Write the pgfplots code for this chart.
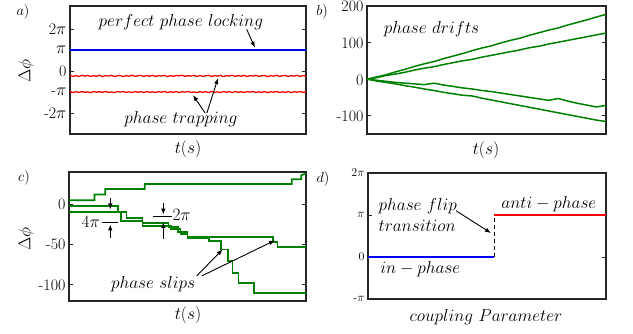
\documentclass[border=0pt]{standalone}
\usepackage{pgfplots}
\pgfplotsset{compat=1.18}
\usetikzlibrary{arrows.meta}
\definecolor{mgreen}{rgb}{0,0.5,0}
\definecolor{axgray}{rgb}{0.15,0.15,0.15}
\pgfplotsset{
  panel/.style={scale only axis, anchor=north west,
    axis line style={axgray,line width=1.1pt},
    tick align=inside, xtick=\empty, major tick length=4pt,
    ytick style={axgray,line width=0.8pt},
    yticklabel style={font=\fontsize{16}{16}\selectfont, text=black},
    clip=true},
}
\tikzset{
  annot/.style={font=\fontsize{18}{21}\selectfont},
  arr/.style={-{Latex[length=6pt,width=4.5pt]}, line width=0.9pt, black},
}
\begin{document}
\begin{tikzpicture}
\path[use as bounding box] (0,0) rectangle (633pt,-334pt);
% ---------------- a) ----------------
\begin{axis}[panel, at={(70pt,-6pt)}, width=236pt, height=128pt,
  xmin=0, xmax=80, ymin=-9.4248, ymax=9.74,
  ytick={-6.2832,-3.1416,0,3.1416,6.2832},
  yticklabels={-2$\pi$,-$\pi$,0,$\pi$,2$\pi$}]
\addplot[blue, line width=1.6pt] coordinates {(0,3.1416)(80,3.1416)};
\addplot[red, line width=1.3pt] coordinates {
(0,-0.64)(1,-0.80)(2,-0.68)(3,-0.82)(4,-0.63)(5,-0.76)(6,-0.66)(7,-0.81)(8,-0.70)(9,-0.78)
(10,-0.62)(11,-0.83)(12,-0.69)(13,-0.75)(14,-0.64)(15,-0.80)(16,-0.72)(17,-0.66)(18,-0.84)(19,-0.68)
(20,-0.77)(21,-0.62)(22,-0.79)(23,-0.71)(24,-0.65)(25,-0.82)(26,-0.67)(27,-0.76)(28,-0.63)(29,-0.81)
(30,-0.70)(31,-0.74)(32,-0.64)(33,-0.83)(34,-0.68)(35,-0.78)(36,-0.66)(37,-0.72)(38,-0.62)(39,-0.80)
(40,-0.69)(41,-0.75)(42,-0.64)(43,-0.82)(44,-0.67)(45,-0.79)(46,-0.71)(47,-0.63)(48,-0.81)(49,-0.68)
(50,-0.76)(51,-0.65)(52,-0.83)(53,-0.70)(54,-0.73)(55,-0.62)(56,-0.80)(57,-0.67)(58,-0.77)(59,-0.64)
(60,-0.82)(61,-0.69)(62,-0.75)(63,-0.63)(64,-0.81)(65,-0.70)(66,-0.66)(67,-0.84)(68,-0.68)(69,-0.77)
(70,-0.62)(71,-0.79)(72,-0.71)(73,-0.65)(74,-0.82)(75,-0.67)(76,-0.76)(77,-0.63)(78,-0.80)(79,-0.69)(80,-0.74)};
\addplot[red, line width=1.3pt] coordinates {
(0,-3.08)(1,-3.22)(2,-3.10)(3,-3.20)(4,-3.06)(5,-3.18)(6,-3.12)(7,-3.24)(8,-3.07)(9,-3.16)
(10,-3.09)(11,-3.21)(12,-3.05)(13,-3.19)(14,-3.13)(15,-3.23)(16,-3.08)(17,-3.15)(18,-3.06)(19,-3.20)
(20,-3.11)(21,-3.22)(22,-3.07)(23,-3.17)(24,-3.10)(25,-3.24)(26,-3.06)(27,-3.19)(28,-3.12)(29,-3.21)
(30,-3.08)(31,-3.16)(32,-3.05)(33,-3.22)(34,-3.11)(35,-3.18)(36,-3.07)(37,-3.23)(38,-3.09)(39,-3.15)
(40,-3.06)(41,-3.20)(42,-3.13)(43,-3.24)(44,-3.08)(45,-3.17)(46,-3.10)(47,-3.21)(48,-3.05)(49,-3.19)
(50,-3.12)(51,-3.22)(52,-3.07)(53,-3.16)(54,-3.09)(55,-3.23)(56,-3.06)(57,-3.18)(58,-3.11)(59,-3.20)
(60,-3.08)(61,-3.15)(62,-3.05)(63,-3.22)(64,-3.12)(65,-3.19)(66,-3.07)(67,-3.24)(68,-3.10)(69,-3.16)
(70,-3.06)(71,-3.21)(72,-3.13)(73,-3.18)(74,-3.08)(75,-3.23)(76,-3.09)(77,-3.17)(78,-3.06)(79,-3.20)(80,-3.12)};
\node[annot] at (axis cs:37.6,7.32) {$perfect\ phase\ locking$};
\draw[arr] (axis cs:59.9,6.24) -- (axis cs:62.7,3.49);
\node[annot] at (axis cs:37.6,-7.19) {$phase\ trapping$};
\draw[arr] (axis cs:45.8,-6.28) -- (axis cs:41.7,-3.59);
\draw[arr] (axis cs:46.4,-6.28) -- (axis cs:50.2,-1.05);
\end{axis}
% ---------------- b) ----------------
\begin{axis}[panel, at={(367pt,-6pt)}, width=239pt, height=128pt,
  xmin=0, xmax=100, ymin=-150, ymax=200,
  ytick={-100,0,100,200}, yticklabels={-100,0,100,200},
  yticklabel style={yshift=-0.8pt}]
\addplot[mgreen, line width=1.5pt] coordinates {
(0,0)(4,6)(8,12)(12,20)(16,27)(20,35)(24,42)(28,48)(32,56)(36,63)(40,70)(44,78)(48,85)
(52,91)(56,99)(60,106)(64,112)(68,120)(72,127)(76,134)(80,140)(84,148)(88,155)(92,162)(96,170)(100,177)};
\addplot[mgreen, line width=1.5pt] coordinates {
(0,0)(4,4)(8,10)(12,14)(16,19)(20,25)(24,30)(28,34)(32,40)(36,45)(40,50)(44,54)(48,60)
(52,65)(56,70)(60,75)(64,80)(68,86)(72,90)(76,96)(80,101)(84,106)(88,111)(92,116)(96,121)(100,126)};
\addplot[mgreen, line width=1.5pt] coordinates {
(0,0)(4,-3)(8,-6)(12,-9)(16,-11)(20,-13)(24,-15)(28,-11)(32,-16)(36,-20)(40,-24)(44,-27)(48,-31)
(52,-34)(56,-38)(60,-42)(64,-46)(68,-50)(72,-54)(76,-58)(80,-53)(84,-60)(88,-66)(92,-71)(96,-76)(100,-72)};
\addplot[mgreen, line width=1.5pt] coordinates {
(0,0)(4,-5)(8,-9)(12,-13)(16,-18)(20,-22)(24,-27)(28,-31)(32,-36)(36,-40)(40,-44)(44,-46)(48,-52)
(52,-57)(56,-62)(60,-67)(64,-72)(68,-77)(72,-82)(76,-87)(80,-92)(84,-97)(88,-102)(92,-107)(96,-112)(100,-116)};
\node[annot] at (axis cs:27,136) {$phase\ drifts$};
\end{axis}
% ---------------- c) ----------------
\begin{axis}[panel, at={(69pt,-172pt)}, width=237pt, height=129pt,
  xmin=0, xmax=100, ymin=-120, ymax=40,
  ytick={-100,-50,0}, yticklabels={-100,-50,0}]
\addplot[mgreen, line width=1.7pt] coordinates {
(0,5)(10.8,5)(10.8,12)(15.3,12)(15.3,19)(32,19)(32,25)(94,25)(94,31)(98,31)(98,36)(100,38)};
\addplot[mgreen, line width=1.7pt] coordinates {
(0,-2)(20.7,-2)(20.7,-10)(24.3,-10)(24.3,-17)(31,-17)(31,-23)(42,-23)(42,-28)(46,-28)(46,-34)
(50,-34)(50,-41)(86,-41)(86,-47)(88,-47)(88,-53)(100,-53)};
\addplot[mgreen, line width=1.7pt] coordinates {
(0,-10)(22,-10)(22,-21)(31,-21)(31,-27)(43,-27)(43,-31)(47,-31)(47,-37)(50,-37)(50,-42)
(59,-42)(59,-46)(64,-46)(64,-56)(67,-56)(67,-70)(69,-70)(69,-85)(71.5,-85)(71.5,-98)(78,-98)(78,-110)(100,-110)};
\draw[arr] (axis cs:17.4,8) -- (axis cs:17.4,-6.5);
\draw[line width=1pt] (axis cs:13.8,-23) -- (axis cs:20.8,-23);
\draw[arr] (axis cs:17.4,-41.6) -- (axis cs:17.4,-25);
\node[annot] at (axis cs:9.2,-21.8) {$4\pi$};
\draw[arr] (axis cs:39.8,1.6) -- (axis cs:39.8,-12.8);
\draw[line width=1pt] (axis cs:35.6,-14.8) -- (axis cs:43.3,-14.8);
\draw[arr] (axis cs:39.8,-43) -- (axis cs:39.8,-22);
\node[annot] at (axis cs:47.5,-12.7) {$2\pi$};
\node[annot] at (axis cs:35.5,-99) {$phase\ slips$};
\draw[arr] (axis cs:53.9,-88.9) -- (axis cs:64.8,-56);
\draw[arr] (axis cs:56,-88.9) -- (axis cs:86.9,-44.8);
\end{axis}
% ---------------- d) ----------------
\begin{axis}[panel, at={(368pt,-173pt)}, width=238pt, height=126pt,
  xmin=0, xmax=1, ymin=-3.1416, ymax=6.2832,
  ytick={-3.1416,0,3.1416,6.2832}, yticklabels={-$\pi$,0,$\pi$,2$\pi$},
  yticklabel style={font=\fontsize{12}{12}\selectfont}]
\addplot[blue, line width=1.6pt] coordinates {(0,0)(0.53,0)};
\addplot[red, line width=1.6pt] coordinates {(0.53,3.1416)(1,3.1416)};
\addplot[black, line width=1pt, dash pattern=on 4pt off 3pt] coordinates {(0.53,0)(0.53,3.1416)};
\node[annot, anchor=west, align=left] at (axis cs:0.03,3.11) {$phase\ flip$\\$transition$};
\node[annot] at (axis cs:0.76,3.96) {$anti-phase$};
\node[annot] at (axis cs:0.22,-0.91) {$in-phase$};
\draw[arr] (axis cs:0.37,3.46) -- (axis cs:0.517,1.79);
\end{axis}
% ---------------- labels ----------------
\begin{scope}[font=\fontsize{15}{15}\selectfont]
\node at (23pt,-12pt) {$a)$};
\node at (322pt,-12pt) {$b)$};
\node at (24pt,-178pt) {$c)$};
\node at (323pt,-179pt) {$d)$};
\end{scope}
\begin{scope}[font=\fontsize{18}{18}\selectfont]
\node[rotate=90] at (26pt,-71pt) {$\Delta\phi$};
\node[rotate=90] at (26pt,-239pt) {$\Delta\phi$};
\node at (188pt,-149pt) {$t(s)$};
\node at (486pt,-150pt) {$t(s)$};
\node at (188pt,-315pt) {$t(s)$};
\node at (486pt,-317pt) {$coupling\ Parameter$};
\end{scope}
\end{tikzpicture}
\end{document}
